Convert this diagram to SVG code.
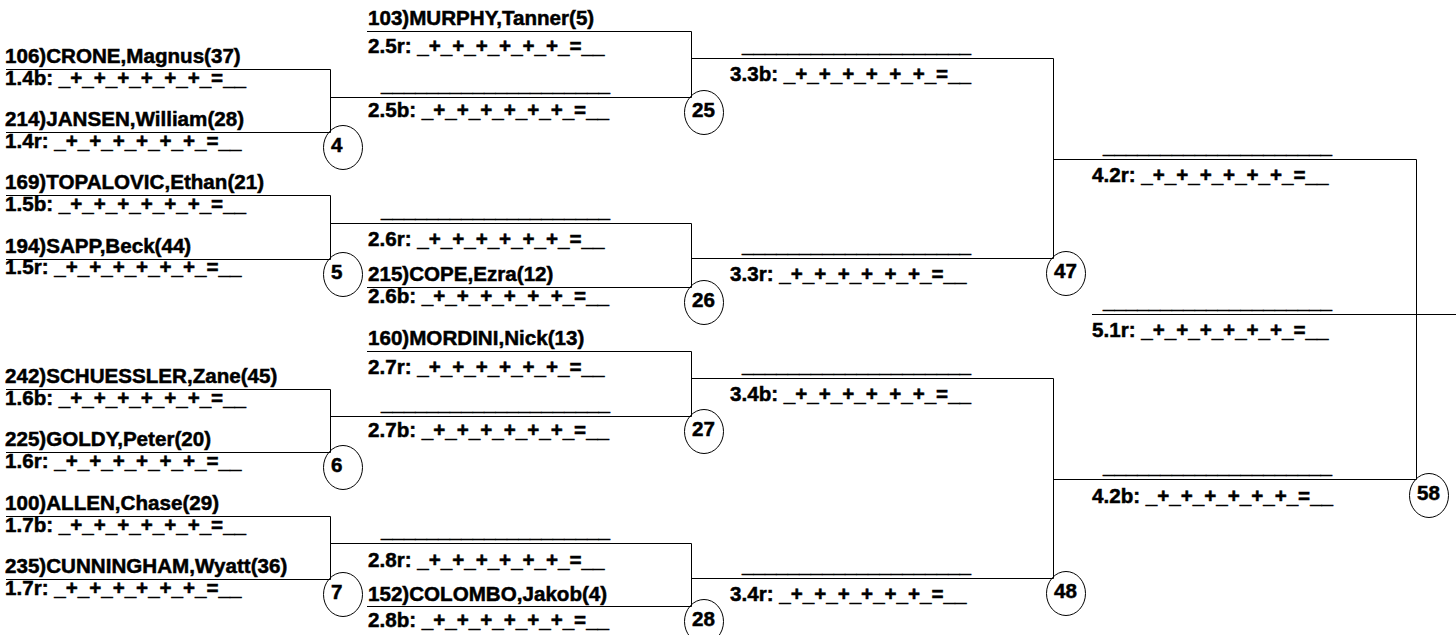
<svg xmlns="http://www.w3.org/2000/svg" width="1456" height="635" viewBox="0 0 1456 635">
<style>
text{font-family:"Liberation Sans",Arial,sans-serif;font-weight:bold;font-size:20.6px;fill:#000;stroke:#000;stroke-width:0.5}
.ln{fill:none;stroke:#000;stroke-width:1}
.c{fill:none;stroke:#000;stroke-width:1}
</style>
<rect width="1456" height="635" fill="#fff"/>
<g id="connectors" class="ln">
<path d="M6 69.5H330.5V132.5H6M330.5 97.5H691.5"/>
<path d="M6 195.5H330.5V259.5H6M330.5 223.5H691.5"/>
<path d="M6 389.5H330.5V452.5H6M330.5 416.5H691.5"/>
<path d="M6 516.5H330.5V579.5H6M330.5 543.5H691.5"/>
<path d="M367 31.5H691.5V97.5M691.5 58.5H1053.5"/>
<path d="M691.5 223.5V287.5H367M691.5 258.5H1053.5"/>
<path d="M367 351.5H691.5V416.5M691.5 378.5H1053.5"/>
<path d="M691.5 543.5V606.5H367M691.5 578.5H1053.5"/>
<path d="M1053.5 58.5V258.5M1053.5 159.5H1416.5"/>
<path d="M1053.5 378.5V578.5M1053.5 479.5H1416.5"/>
<path d="M1416.5 159.5V479.5M1092 314.5H1456"/>
</g>
<g id="m4">
<text x="5" y="63">106)CRONE,Magnus(37)</text>
<text x="5" y="85">1.4b: _+_+_+_+_+_+_=__</text>
<text x="5" y="126">214)JANSEN,William(28)</text>
<text x="5" y="148">1.4r: _+_+_+_+_+_+_=__</text>
<ellipse class="c" cx="343" cy="147.5" rx="19.5" ry="22"/>
<text x="331" y="152">4</text>
</g>
<g id="m5">
<text x="5" y="189">169)TOPALOVIC,Ethan(21)</text>
<text x="5" y="211">1.5b: _+_+_+_+_+_+_=__</text>
<text x="5" y="253">194)SAPP,Beck(44)</text>
<text x="5" y="274">1.5r: _+_+_+_+_+_+_=__</text>
<ellipse class="c" cx="343" cy="274.5" rx="19.5" ry="22"/>
<text x="331" y="279">5</text>
</g>
<g id="m6">
<text x="5" y="383">242)SCHUESSLER,Zane(45)</text>
<text x="5" y="405">1.6b: _+_+_+_+_+_+_=__</text>
<text x="5" y="446">225)GOLDY,Peter(20)</text>
<text x="5" y="468">1.6r: _+_+_+_+_+_+_=__</text>
<ellipse class="c" cx="343" cy="467.5" rx="19.5" ry="22"/>
<text x="331" y="472">6</text>
</g>
<g id="m7">
<text x="5" y="510">100)ALLEN,Chase(29)</text>
<text x="5" y="532">1.7b: _+_+_+_+_+_+_=__</text>
<text x="5" y="573">235)CUNNINGHAM,Wyatt(36)</text>
<text x="5" y="595">1.7r: _+_+_+_+_+_+_=__</text>
<ellipse class="c" cx="343" cy="594.5" rx="19.5" ry="22"/>
<text x="331" y="599">7</text>
</g>
<g id="m25">
<text x="368" y="25">103)MURPHY,Tanner(5)</text>
<text x="368" y="53">2.5r: _+_+_+_+_+_+_=__</text>
<text x="381" y="91">____________________</text>
<text x="368" y="117">2.5b: _+_+_+_+_+_+_=__</text>
<ellipse class="c" cx="704" cy="112.5" rx="19.5" ry="22"/>
<text x="692" y="117">25</text>
</g>
<g id="m26">
<text x="381" y="217">____________________</text>
<text x="368" y="246">2.6r: _+_+_+_+_+_+_=__</text>
<text x="368" y="281">215)COPE,Ezra(12)</text>
<text x="368" y="303">2.6b: _+_+_+_+_+_+_=__</text>
<ellipse class="c" cx="704" cy="302.5" rx="19.5" ry="22"/>
<text x="692" y="307">26</text>
</g>
<g id="m27">
<text x="368" y="345">160)MORDINI,Nick(13)</text>
<text x="368" y="374">2.7r: _+_+_+_+_+_+_=__</text>
<text x="381" y="410">____________________</text>
<text x="368" y="437">2.7b: _+_+_+_+_+_+_=__</text>
<ellipse class="c" cx="704" cy="431.5" rx="19.5" ry="22"/>
<text x="692" y="436">27</text>
</g>
<g id="m28">
<text x="381" y="537">____________________</text>
<text x="368" y="567">2.8r: _+_+_+_+_+_+_=__</text>
<text x="368" y="601">152)COLOMBO,Jakob(4)</text>
<text x="368" y="627">2.8b: _+_+_+_+_+_+_=__</text>
<ellipse class="c" cx="704" cy="621.5" rx="19.5" ry="22"/>
<text x="692" y="626">28</text>
</g>
<g id="m47">
<text x="742" y="52">____________________</text>
<text x="730" y="81">3.3b: _+_+_+_+_+_+_=__</text>
<text x="742" y="252">____________________</text>
<text x="730" y="281">3.3r: _+_+_+_+_+_+_=__</text>
<ellipse class="c" cx="1066" cy="273.5" rx="19.5" ry="22"/>
<text x="1054" y="278">47</text>
</g>
<g id="m48">
<text x="742" y="372">____________________</text>
<text x="730" y="401">3.4b: _+_+_+_+_+_+_=__</text>
<text x="742" y="572">____________________</text>
<text x="730" y="601">3.4r: _+_+_+_+_+_+_=__</text>
<ellipse class="c" cx="1066" cy="593.5" rx="19.5" ry="22"/>
<text x="1054" y="598">48</text>
</g>
<g id="m58">
<text x="1103" y="153">____________________</text>
<text x="1092" y="182">4.2r: _+_+_+_+_+_+_=__</text>
<text x="1103" y="473">____________________</text>
<text x="1092" y="503">4.2b: _+_+_+_+_+_+_=__</text>
<ellipse class="c" cx="1429" cy="495.5" rx="19.5" ry="22"/>
<text x="1417" y="500">58</text>
</g>
<g id="final">
<text x="1103" y="308">____________________</text>
<text x="1092" y="337">5.1r: _+_+_+_+_+_+_=__</text>
</g>
</svg>
